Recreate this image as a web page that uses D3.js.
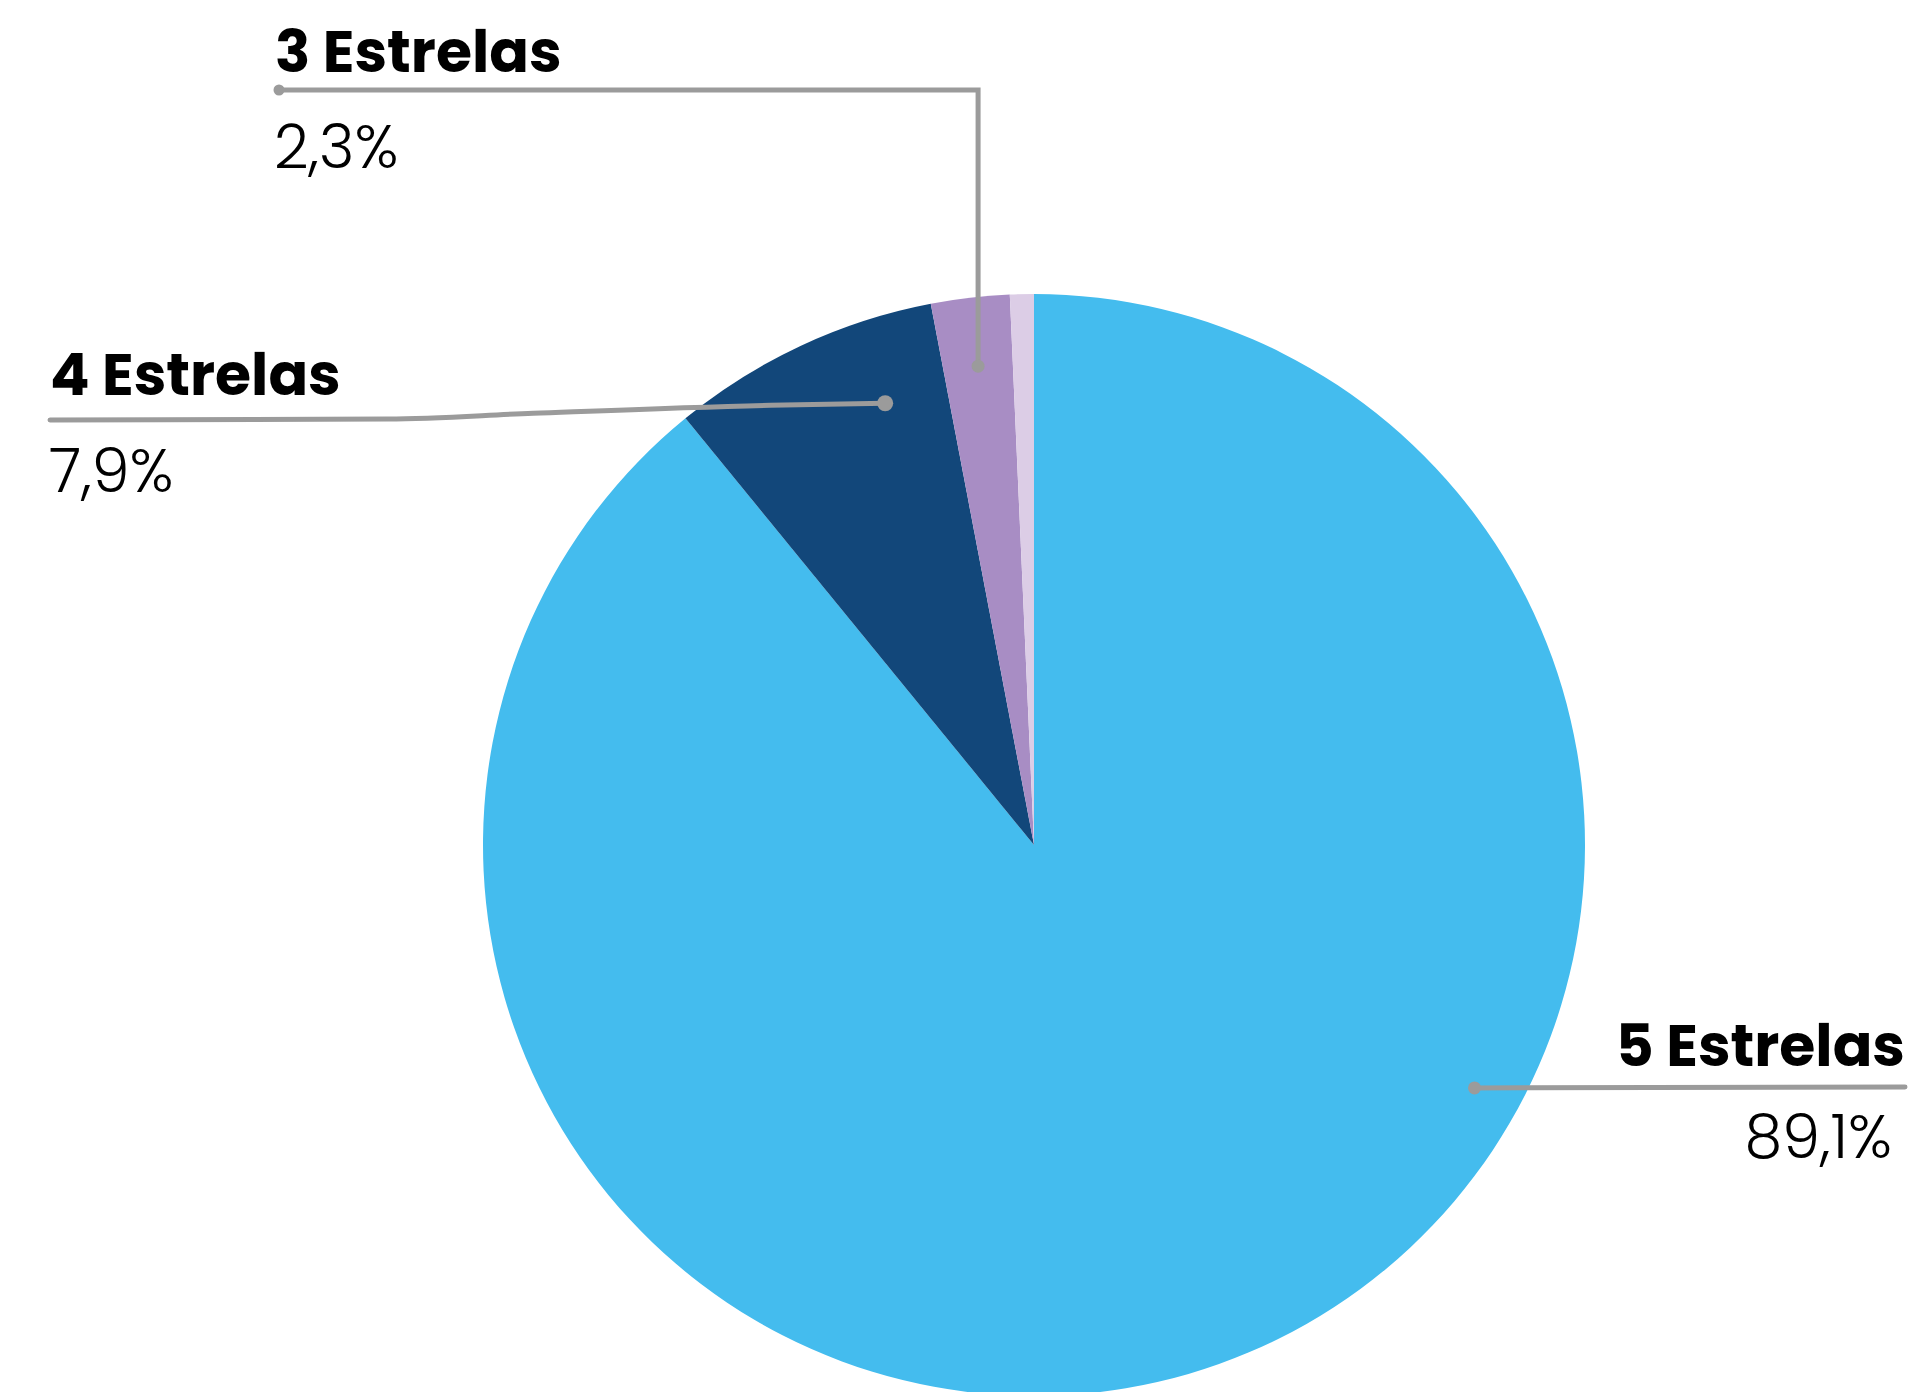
<!DOCTYPE html>
<html>
<head>
<meta charset="utf-8">
<script src="https://cdn.jsdelivr.net/npm/d3@7"></script>
<style>
  html, body { margin: 0; padding: 0; background: #fff; }
  svg { display: block; }
  .lbl { font-family: Poppins, Lato, "Open Sans", sans-serif; font-weight: 700; fill: #000; }
  .pct { font-family: Poppins, Lato, "Open Sans", sans-serif; font-weight: 300; fill: #000; }
</style>
</head>
<body>
<div id="chart"></div>
<script>
// data
var categories = ["5 Estrelas", "4 Estrelas", "3 Estrelas", "1 e 2 Estrelas"];
var values = [89.1, 7.9, 2.3, 0.7];
var pctLabels = ["89,1%", "7,9%", "2,3%", ""];
var colors = ["#44bcee", "#12477a", "#a88dc4", "#dccde6"];

var W = 1916, H = 1392;
var cx = 1034, cy = 845, R = 551;

var svg = d3.select("#chart").append("svg")
	.attr("width", W).attr("height", H);

var pie = d3.pie().sort(null).value(function(d){ return d; });
var arcs = pie(values);
var arc = d3.arc().innerRadius(0).outerRadius(R);

var g = svg.append("g").attr("transform", "translate(" + cx + "," + cy + ")");

g.selectAll("path.slice").data(arcs).enter()
	.append("path").attr("class", "slice")
	.attr("d", arc)
	.style("fill", function(d, i){ return colors[i]; });

// point inside the pie at a given angle (deg, clockwise from top) and radius fraction
function polar(angDeg, frac){
	var a = angDeg * Math.PI / 180;
	return [cx + Math.sin(a) * R * frac, cy - Math.cos(a) * R * frac];
}
function midDeg(i){ return (arcs[i].startAngle + arcs[i].endAngle) / 2 * 180 / Math.PI; }

// label layout: where the dot sits and where the text goes
var layout = [
	{ ang: midDeg(0) - 41.5, frac: 0.913, tx: 1905, ty: 1066, px: 1892, py: 1158, lineY: 1087, anchor: "end" },
	{ ang: midDeg(1) + 6.4, frac: 0.846, tx: 50, ty: 395, px: 49, py: 492, lineY: 420, anchor: "start" },
	{ ang: midDeg(2), frac: 0.875, tx: 275, ty: 72, px: 274, py: 168, lineY: 90, anchor: "start" }
];

var lineColor = "#9b9b9b";
var ann = svg.append("g");

layout.forEach(function(L, i){
	var p = polar(L.ang, L.frac);
	var pts;
	if (i === 0) {
		pts = [[p[0], p[1]], [L.tx, L.lineY]];
		ann.append("path")
			.attr("d", d3.line()(pts))
			.style("fill", "none").style("stroke", lineColor)
			.style("stroke-width", 5).style("stroke-linecap", "round");
	} else if (i === 1) {
		pts = [[L.tx, L.lineY], [L.tx + 338, L.lineY - 1], [p[0] - 352, p[1] + 10], [p[0] - 115, p[1] + 2], [p[0], p[1]]];
		ann.append("path")
			.attr("d", d3.line().curve(d3.curveMonotoneX)(pts))
			.style("fill", "none").style("stroke", lineColor)
			.style("stroke-width", 5).style("stroke-linecap", "round");
	} else {
		pts = [[L.tx + 4, L.lineY], [p[0], L.lineY], [p[0], p[1]]];
		ann.append("path")
			.attr("d", d3.line()(pts))
			.style("fill", "none").style("stroke", lineColor)
			.style("stroke-width", 5).style("stroke-linejoin", "miter");
		ann.append("circle").attr("cx", L.tx + 4).attr("cy", L.lineY).attr("r", 5.5)
			.style("fill", lineColor);
	}
	ann.append("circle").attr("cx", p[0]).attr("cy", p[1]).attr("r", i === 1 ? 8 : 6.5)
		.style("fill", lineColor);

	svg.append("text").attr("class", "lbl")
		.attr("x", L.tx).attr("y", L.ty)
		.attr("text-anchor", L.anchor)
		.style("font-size", "58.5px")
		.text(categories[i]);
	svg.append("text").attr("class", "pct")
		.attr("x", L.px).attr("y", L.py)
		.attr("text-anchor", L.anchor)
		.style("font-size", "60.5px")
		.text(pctLabels[i]);
});
</script>
</body>
</html>
